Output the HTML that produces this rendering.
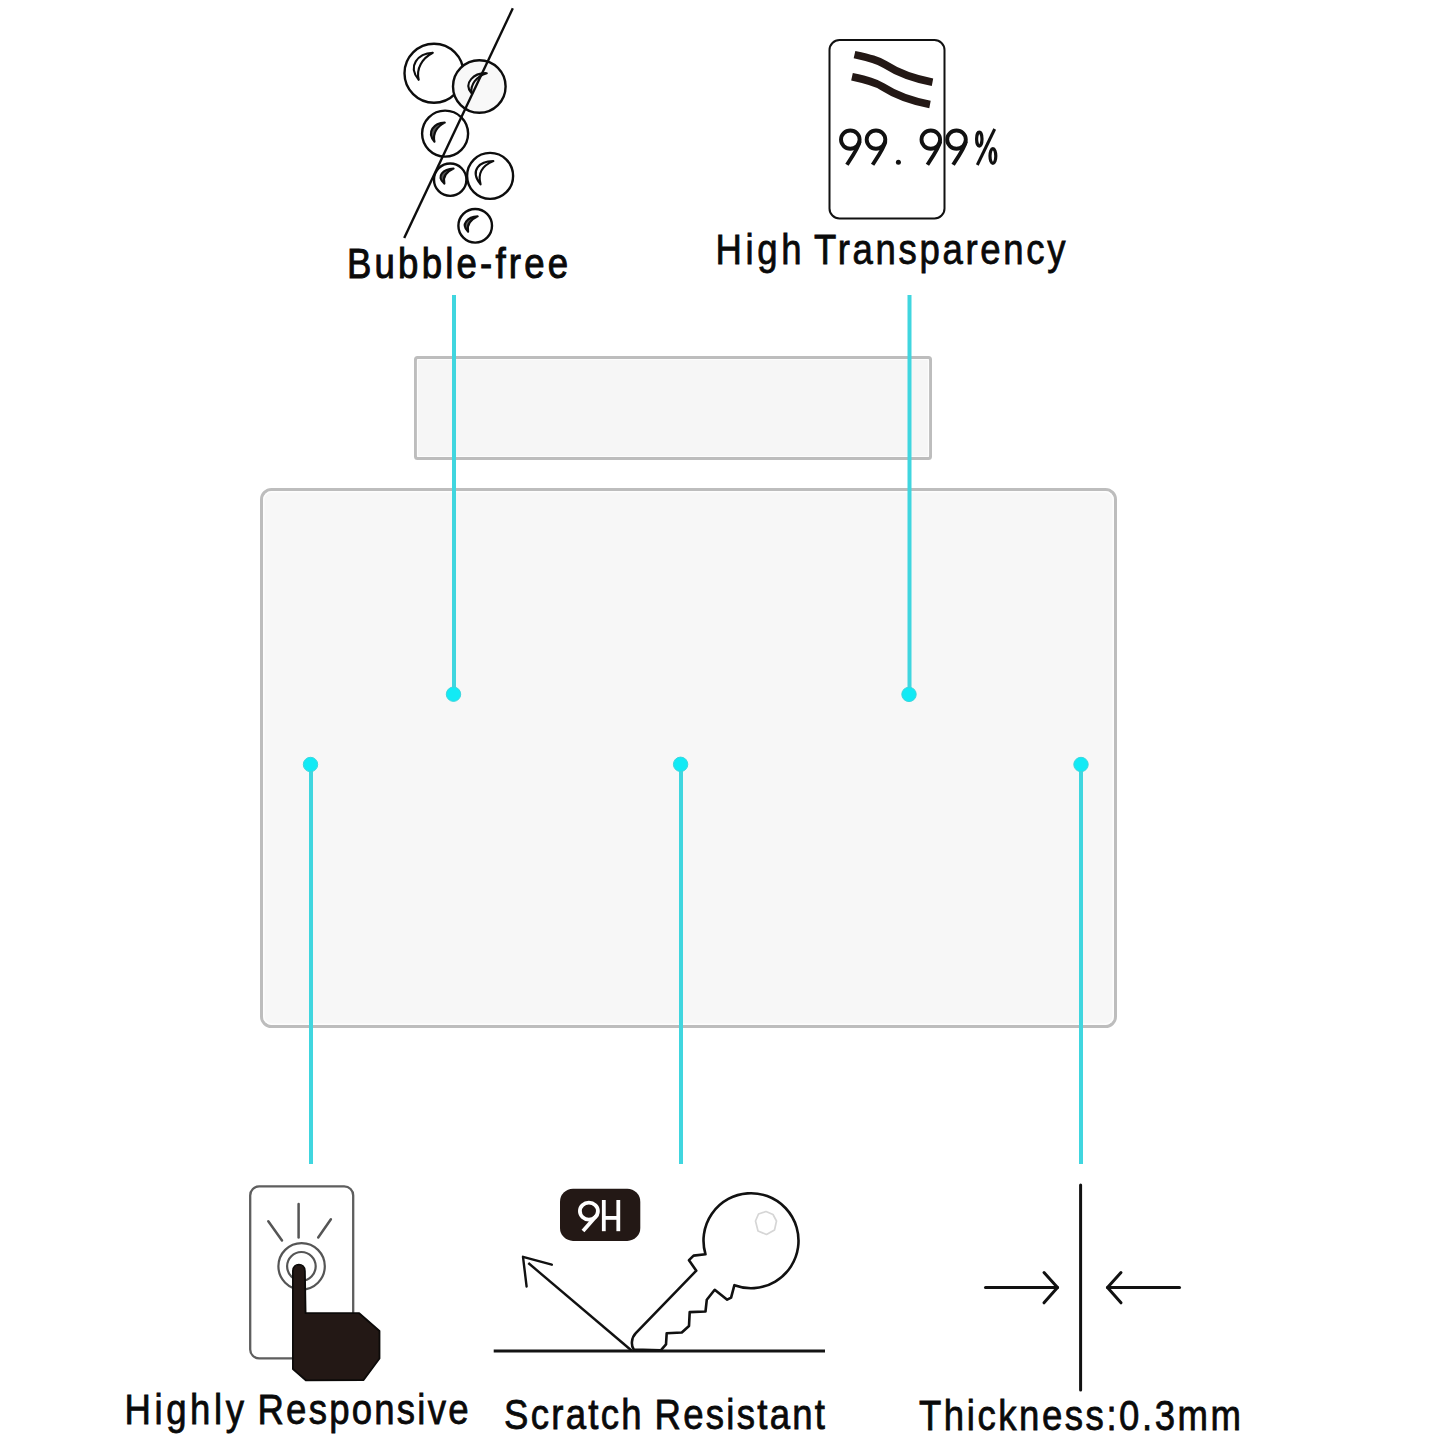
<!DOCTYPE html>
<html><head><meta charset="utf-8">
<style>
html,body{margin:0;padding:0;background:#fff;width:1445px;height:1445px;overflow:hidden}
svg{position:absolute;left:0;top:0;display:block}
text{font-family:"Liberation Sans",sans-serif}
</style></head>
<body>
<svg width="1445" height="1445" viewBox="0 0 1445 1445">
<!-- glass rectangles -->
<rect x="415.5" y="357.5" width="515" height="101" rx="2" fill="#f6f6f6" stroke="#bdbdbd" stroke-width="3"/>
<rect x="417.5" y="359.5" width="511" height="97" rx="1" fill="none" stroke="#fdfdfd" stroke-width="1.2"/>
<rect x="261.5" y="489.5" width="854" height="537" rx="10" fill="#f7f7f7" stroke="#bdbdbd" stroke-width="3"/>
<rect x="263.8" y="491.8" width="849.4" height="532.4" rx="8" fill="none" stroke="#fdfdfd" stroke-width="1.4"/>

<!-- cyan lines -->
<g stroke="#40d6df" stroke-width="4">
<line x1="454" y1="295" x2="454" y2="694"/>
<line x1="909.5" y1="295" x2="909.5" y2="694"/>
<line x1="311" y1="764" x2="311" y2="1164"/>
<line x1="681" y1="764" x2="681" y2="1164"/>
<line x1="1081" y1="764" x2="1081" y2="1164"/>
</g>
<g fill="#12eaf5" stroke="#3ed6dd" stroke-width="1">
<circle cx="453.5" cy="694.2" r="7.2"/>
<circle cx="909" cy="694.4" r="7.2"/>
<circle cx="310.5" cy="764.5" r="7.2"/>
<circle cx="680.6" cy="764.3" r="7.2"/>
<circle cx="1081" cy="764.5" r="7.2"/>
</g>


<!-- bubbles icon -->
<g stroke="#0d0d0d" stroke-width="2.4" fill="#fff">
<circle cx="434" cy="73.2" r="29.5"/>
<circle cx="479.3" cy="86.5" r="26.3" fill="#f8f8f8"/>
<circle cx="445.1" cy="133.6" r="23"/>
<circle cx="450.2" cy="179.7" r="16.2"/>
<circle cx="490.1" cy="175.9" r="23"/>
<circle cx="475.2" cy="225.8" r="16.8"/>
</g>
<g stroke="#0d0d0d" stroke-width="2.1" fill="#fff" stroke-linejoin="round">
<path d="M432.8,52.8 C418,53.5 407,66 418.7,79.8 C416,68.5 422,58.5 432.8,52.8 Z"/>
<path d="M486.8,73.2 C474,72.5 463,83 471.4,93.1 C470.5,84.5 476,76.5 486.8,73.2 Z"/>
<path d="M444.8,122.6 C434,123 426,132 434.5,141.7 C432.5,133.5 437,126.5 444.8,122.6 Z" fill="#555"/>
<path d="M453.6,168.6 C444,169 435,176 444.4,183.6 C442.5,176.5 447,171.5 453.6,168.6 Z" fill="#555"/>
<path d="M493.4,161.1 C480,161 469,170 480.6,184.4 C477.5,173.5 482.5,165.5 493.4,161.1 Z"/>
<path d="M477.7,216.4 C468,217 460,224 468.1,231.7 C466.5,224.5 471,219.5 477.7,216.4 Z" fill="#555"/>
</g>
<line x1="512.8" y1="8.3" x2="404.2" y2="238" stroke="#0d0d0d" stroke-width="2.4"/>

<!-- transparency icon -->
<rect x="829.5" y="40" width="115" height="178.5" rx="10" fill="#fff" stroke="#111" stroke-width="2"/>
<g stroke="#231815" stroke-width="7.6" fill="none">
<path d="M854.5,54.6 C870,58 878,60 885,64.5 S905,77 932.5,82.2"/>
<path transform="translate(-2.5,22.2)" d="M854.5,54.6 C870,58 878,60 885,64.5 S905,77 932.5,82.2"/>
</g>
<g stroke="#111" stroke-width="3.9" fill="none">
<ellipse cx="850.3" cy="139.6" rx="9.3" ry="9.1"/>
<path d="M859.7,141.5 C858.8,147 853.3,155 846.9,164.8"/>
<ellipse cx="876.0" cy="139.6" rx="9.3" ry="9.1"/>
<path d="M885.4,141.5 C884.5,147 879.0,155 872.6,164.8"/>
<ellipse cx="930.8" cy="139.6" rx="9.3" ry="9.1"/>
<path d="M940.2,141.5 C939.3,147 933.8,155 927.4,164.8"/>
<ellipse cx="956.5" cy="139.6" rx="9.3" ry="9.1"/>
<path d="M965.9,141.5 C965.0,147 959.5,155 953.1,164.8"/>
<ellipse cx="979.3" cy="139.1" rx="2.7" ry="7" stroke-width="3.2"/>
<ellipse cx="992.9" cy="156" rx="2.9" ry="7.4" stroke-width="3.2"/>
<line x1="994.7" y1="129" x2="977.3" y2="165" stroke-width="3"/>
</g>
<circle cx="898.4" cy="162.3" r="2.5" fill="#111"/>

<!-- highly responsive icon -->
<rect x="250.2" y="1186.4" width="103" height="172" rx="9" fill="#fff" stroke="#5e5e5e" stroke-width="2.3"/>
<g stroke="#555" stroke-width="2.5" fill="none" stroke-linecap="round">
<line x1="298.6" y1="1204" x2="298.6" y2="1237.5"/>
<line x1="268.3" y1="1221.3" x2="282" y2="1240.4"/>
<line x1="330.9" y1="1219.2" x2="318.2" y2="1237.5"/>
</g>
<g stroke="#555" stroke-width="2.2" fill="none">
<circle cx="301.6" cy="1266.3" r="23.2"/>
<circle cx="301.4" cy="1266.3" r="14.3"/>
</g>
<path fill="#231815" stroke="#0c0a09" stroke-width="1.8" stroke-linejoin="round" d="M292.9,1271 C292.9,1262.6 304.9,1262.6 304.9,1271 L305.6,1313.2 L359.2,1313.2 L379.5,1331 L379.5,1358.5 L363.6,1380 L305.8,1380.3 L292.9,1369 Z"/>

<!-- scratch resistant icon -->
<line x1="493.7" y1="1351" x2="825" y2="1351" stroke="#141414" stroke-width="2.9"/>
<rect x="560" y="1188.7" width="80.3" height="52.2" rx="13" fill="#231815"/>
<g stroke="#fff" stroke-width="3.8" fill="none" stroke-linecap="butt">
<ellipse cx="588.9" cy="1211.1" rx="9" ry="8.5"/>
<line x1="597.5" y1="1214.5" x2="583" y2="1231"/>
<line x1="603.8" y1="1200" x2="603.8" y2="1231.2"/>
<line x1="618.3" y1="1200" x2="618.3" y2="1231.2"/>
<line x1="603.8" y1="1217.9" x2="618.3" y2="1217.9"/>
</g>
<g stroke="#111" stroke-width="2.5" fill="none" stroke-linecap="round" stroke-linejoin="round">
<line x1="631.5" y1="1350.5" x2="528.3" y2="1263" stroke-width="2.4" stroke-linecap="butt"/>
<polyline points="526.6,1286.5 523,1256.8 551.8,1264.7" stroke-width="2.4"/>
</g>
<path fill="#fff" stroke="#111" stroke-width="2.6" stroke-linejoin="round" d="M705.5,1254.3 A47.5,47.5 0 1 1 734.4,1285.2 L731.1,1297.7 L727.2,1299.7 L714.7,1289.8 L706.8,1299.7 L705.5,1311.5 L689.7,1312.1 L689,1326 L681.8,1332.5 L666.7,1333.2 L666,1344.4 L660.8,1350.3 L633.8,1349.6 C631,1346 631,1338 635.8,1333.2 L696.3,1270.7 L689,1260.2 L693.6,1255.6 Z"/>
<path fill="none" stroke="#d6d6d6" stroke-width="1.7" stroke-linejoin="round" d="M766,1211.5 L773,1214.5 L776.5,1221 L774.5,1230 L766.5,1234.5 L758,1231 L755.5,1221 L758.5,1214 Z"/>

<!-- thickness icon -->
<g stroke="#111" stroke-width="3" fill="none" stroke-linecap="round" stroke-linejoin="round">
<line x1="1080.6" y1="1185" x2="1080.6" y2="1390"/>
<line x1="985.5" y1="1287.6" x2="1057.5" y2="1287.6"/>
<polyline points="1044,1272.5 1057.5,1287.6 1044,1302.8"/>
<line x1="1107.5" y1="1287.6" x2="1179.5" y2="1287.6"/>
<polyline points="1121,1272.5 1107.5,1287.6 1121,1302.8"/>
</g>

<!-- labels -->
<g fill="#0a0a0a" stroke="#0a0a0a" stroke-width="0.8" font-size="42">
<text transform="translate(347.0,278.2) scale(0.87,1)" x="0" y="0" textLength="254.02" lengthAdjust="spacing" stroke-width="1.0">Bubble-free</text>
<text transform="translate(715.5,263.6) scale(0.87,1)" x="0" y="0" textLength="98.85" lengthAdjust="spacing">High</text>
<text transform="translate(814.0,263.6) scale(0.87,1)" x="0" y="0" textLength="289.08" lengthAdjust="spacing">Transparency</text>
<text transform="translate(124.5,1424) scale(0.87,1)" x="0" y="0" textLength="137.36" lengthAdjust="spacing">Highly</text>
<text transform="translate(257.5,1424) scale(0.87,1)" x="0" y="0" textLength="242.53" lengthAdjust="spacing">Responsive</text>
<text transform="translate(504.0,1428.6) scale(0.87,1)" x="0" y="0" textLength="158.05" lengthAdjust="spacing">Scratch</text>
<text transform="translate(654.5,1428.6) scale(0.87,1)" x="0" y="0" textLength="195.98" lengthAdjust="spacing">Resistant</text>
<text transform="translate(919.0,1429.8) scale(0.87,1)" x="0" y="0" textLength="370.11" lengthAdjust="spacing">Thickness:0.3mm</text>
</g>
</svg>
</body></html>
